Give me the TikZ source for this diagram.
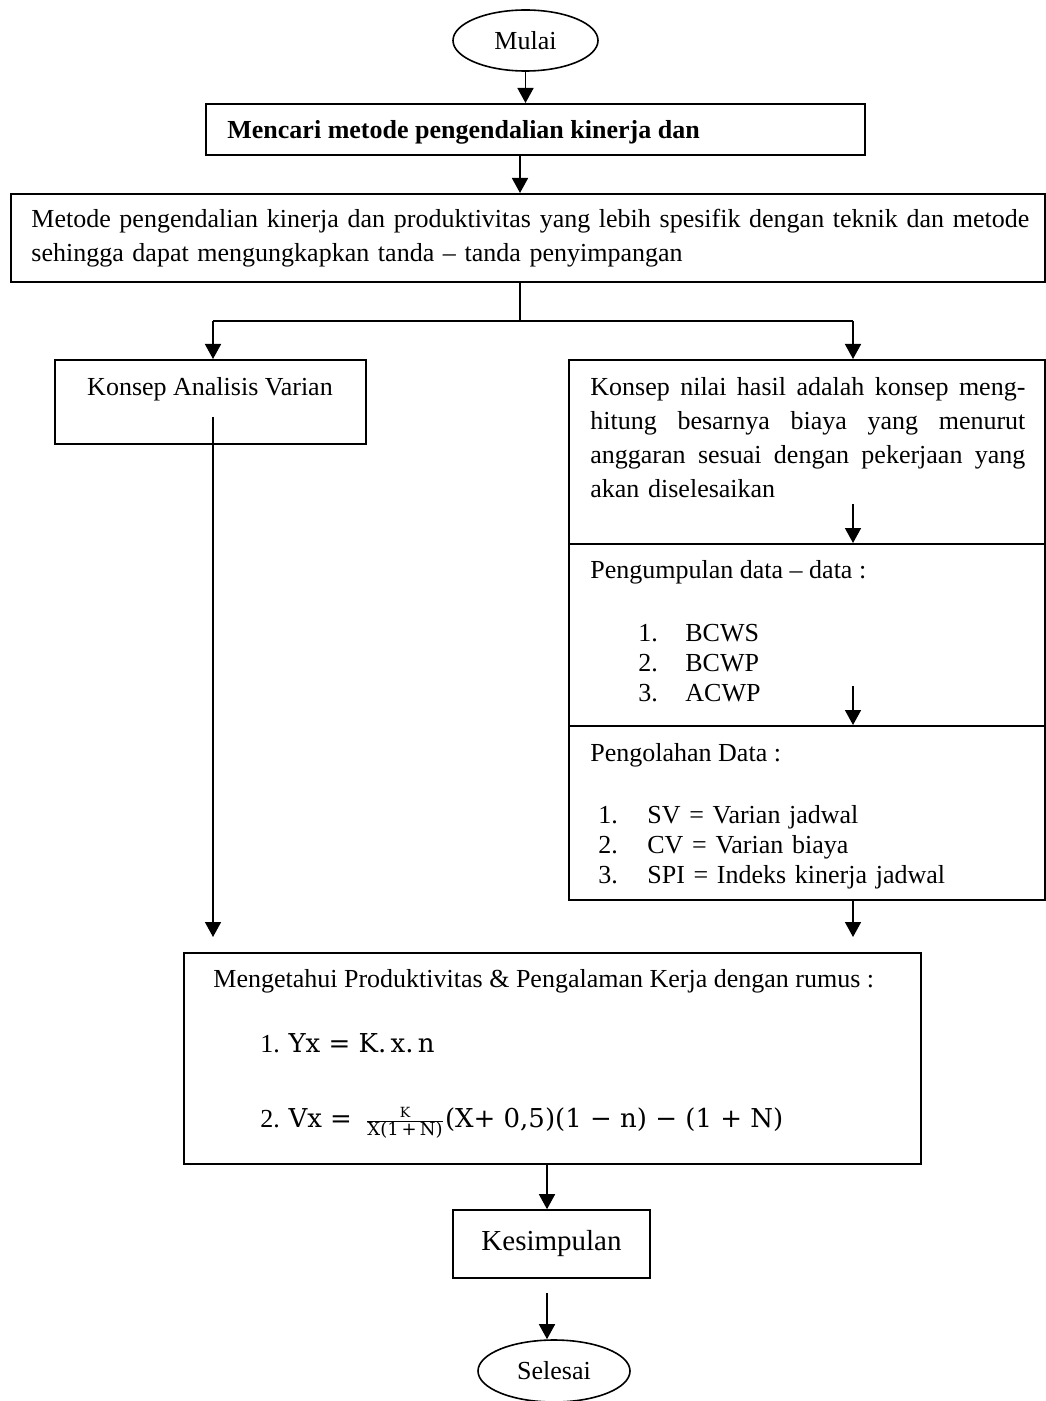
\documentclass[tikz,border=0pt]{standalone}
\usepackage{fontspec}
\setmainfont{Liberation Serif}
\newfontfamily\rumusfont{DejaVu Serif}
\usetikzlibrary{shapes.geometric,arrows.meta}

\newcommand\barisrata[1]{\leavevmode\hbox to 217.5pt{\spaceskip=0.25em plus 1em\relax #1}}

\begin{document}
\begin{tikzpicture}[x=0.5pt,y=-0.5pt,
  kotak/.style={draw,line width=0.8pt,anchor=north west,inner sep=0pt},
  oval/.style={draw,ellipse,line width=0.8pt,inner sep=0pt},
  teks/.style={anchor=base west,inner sep=0pt},
  garis/.style={line width=0.8pt},
  panah/.style={line width=0.8pt,-{Triangle[width=8pt,length=7.5pt]}}]
\fontsize{13}{17}\selectfont
\useasboundingbox (0,0) rectangle (1045,1401);

\node[oval,minimum width=72.5pt,minimum height=30.5pt] (mulai) at (525.5,40.5) {Mulai};
\node[kotak,minimum width=329.5pt,minimum height=25.5pt] (cari) at (205,103) {};
\node[kotak,minimum width=517pt,minimum height=44pt] (metode) at (10,193) {};
\node[kotak,minimum width=155.5pt,minimum height=42pt] (varian) at (54,359) {};
\node[kotak,minimum width=238pt,minimum height=92pt] (nilai) at (568,359) {};
\node[kotak,minimum width=238pt,minimum height=91pt] (kumpul) at (568,543) {};
\node[kotak,minimum width=238pt,minimum height=87pt] (olah) at (568,725) {};
\node[kotak,minimum width=368.5pt,minimum height=105.5pt] (rumus) at (183,952) {};
\node[kotak,anchor=center,minimum width=98.5pt,minimum height=34pt,font=\fontsize{14.5}{17}\selectfont] (kes) at (551.5,1244) {Kesimpulan};
\node[oval,minimum width=76pt,minimum height=31pt] (selesai) at (554,1371) {Selesai};

\node[teks,font=\bfseries] (tcari) at (227,139) {Mencari metode pengendalian kinerja dan};
\node[teks,text width=510pt,align=left] (tmetode) at (31,228)
  {Metode pengendalian kinerja dan produktivitas yang lebih spesifik dengan teknik dan metode\\
   sehingga dapat mengungkapkan tanda -- tanda penyimpangan};
\node[anchor=base,inner sep=0pt] (tvarian) at (210,395) {Konsep Analisis Varian};
\node[teks,text width=220pt,align=left] (tnilai) at (590,395)
  {\barisrata{Konsep nilai hasil adalah konsep meng-}\\
   \barisrata{hitung besarnya biaya yang menurut}\\
   \barisrata{anggaran sesuai dengan pekerjaan yang}\\
   akan diselesaikan};
\node[teks] (tkumpul) at (590,578) {Pengumpulan data -- data :};
\node[teks,text width=150pt,align=left,font=\fontsize{13}{15}\selectfont] (lkumpul) at (638,641)
  {\makebox[23.5pt][l]{1.}BCWS\\ \makebox[23.5pt][l]{2.}BCWP\\ \makebox[23.5pt][l]{3.}ACWP};
\node[teks] (tolah) at (590,761) {Pengolahan Data :};
\node[teks,text width=210pt,align=left,font=\fontsize{13}{15}\selectfont] (lolah) at (598,823)
  {\makebox[24.5pt][l]{1.}SV = Varian jadwal\\ \makebox[24.5pt][l]{2.}CV = Varian biaya\\
   \makebox[24.5pt][l]{3.}SPI = Indeks kinerja jadwal};
\node[teks] (trumus) at (213,987) {Mengetahui Produktivitas \& Pengalaman Kerja dengan rumus :};
\node[teks] (f1) at (260,1052) {1. {\rumusfont\fontsize{13}{15}\selectfont Yx = K.\,x.\,n}};
\node[teks] (f2) at (260,1127) {2. {\rumusfont\fontsize{13}{15}\selectfont Vx =}\enspace
  $\frac{\hbox{\rumusfont\fontsize{7}{8}\selectfont K}}{\hbox{\rumusfont\fontsize{9}{10}\selectfont X(1\,+\,N)}}$%
  {\rumusfont\fontsize{13}{15}\selectfont (X+ 0,5)(1 − n) − (1 + N)}};

\coordinate (cabang) at (520,321);
\coordinate (kiri) at (213,321);
\coordinate (kanan) at (853,321);
\coordinate (tengah) at (547,1200);

\draw[panah] (mulai.south) -- (mulai.south |- cari.north);
\draw[panah] (cari.south -| cabang) -- (metode.north -| cabang);
\draw[garis] (metode.south -| cabang) -- (cabang);
\draw[garis] (kiri) -- (kanan);
\draw[panah] (kiri) -- (kiri |- varian.north);
\draw[panah] (kanan) -- (kanan |- nilai.north);
\draw[panah,shorten >=7.5pt] (kiri |- varian.center) ++(0,15) -- (kiri |- rumus.north);
\draw[panah] (kanan |- kumpul.north) ++(0,-39) -- (kanan |- kumpul.north);
\draw[panah] (kanan |- olah.north) ++(0,-39) -- (kanan |- olah.north);
\draw[panah,shorten >=7.5pt] (kanan |- olah.south) -- (kanan |- rumus.north);
\draw[panah] (rumus.south -| tengah) -- (kes.north -| tengah);
\draw[panah] (kes.south -| tengah) ++(0,14) -- (tengah |- selesai.north);
\end{tikzpicture}
\end{document}
